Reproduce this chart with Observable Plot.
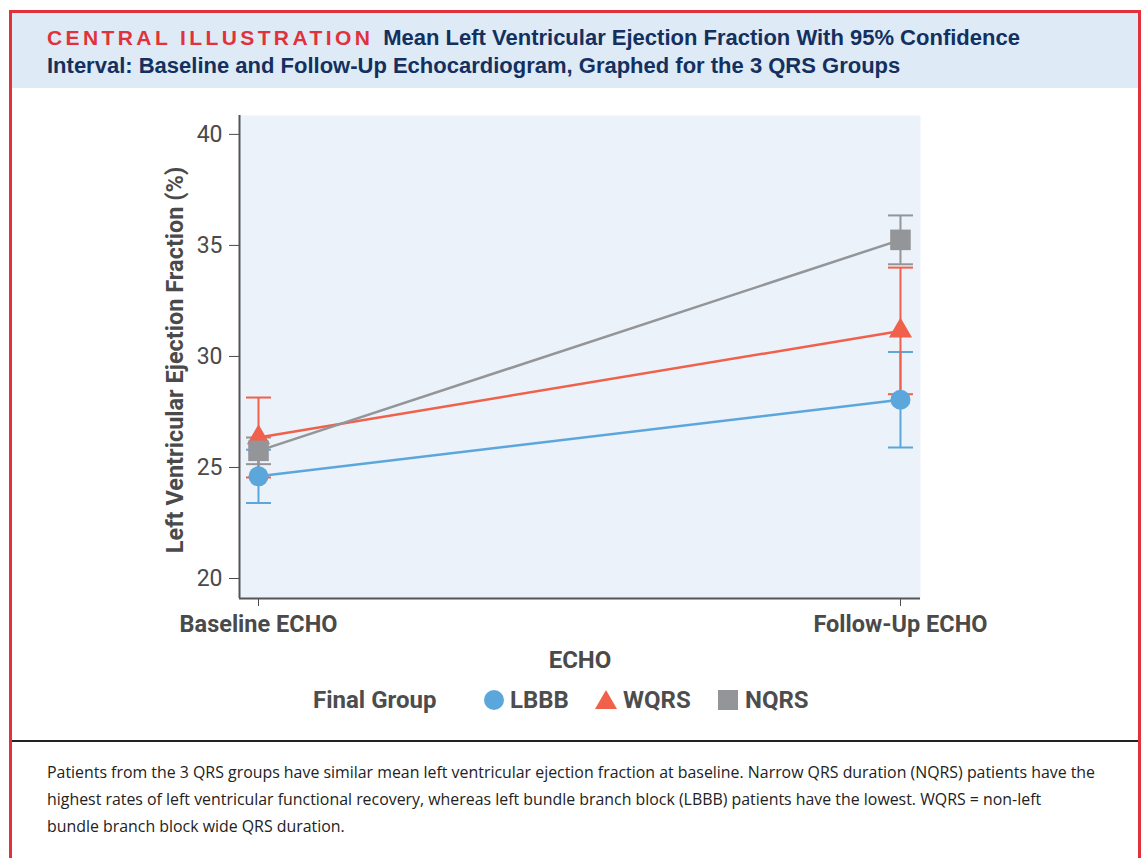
<!DOCTYPE html>
<html><head><meta charset="utf-8">
<script src="https://cdn.jsdelivr.net/npm/d3@7"></script>
<script src="https://cdn.jsdelivr.net/npm/@observablehq/plot@0.6"></script>
<style>
body{margin:0;background:#fff;width:1144px;height:858px;overflow:hidden;position:relative;font-family:Roboto,sans-serif;}
#frame{position:absolute;left:9px;top:10px;width:1126px;height:900px;border:3px solid #E1323C;}
#header{position:absolute;left:12px;top:13px;width:1126px;height:75px;background:#DEEAF6}
#title{position:absolute;left:47px;top:24px;font-family:"Liberation Sans Narrow",sans-serif;font-weight:bold;font-size:22px;line-height:28px;color:#13305F;white-space:nowrap}
#title .ci{color:#E1323C;font-family:"Liberation Sans",sans-serif;letter-spacing:3.4px;font-size:21px;margin-right:10px;font-weight:900}
#sep{position:absolute;left:12px;top:740px;width:1126px;height:2px;background:#222}
#caption{position:absolute;left:47px;top:759px;font-family:"Open Sans",sans-serif;font-size:15.9px;line-height:27px;color:#222;white-space:nowrap}
#chart{position:absolute;left:150px;top:100px}
.lg{position:absolute;top:685px;font-family:Roboto,sans-serif;font-weight:bold;font-size:24px;color:#4d4d4d;line-height:30px;white-space:nowrap}
.sw{position:absolute;top:689px}
</style></head>
<body>
<div id="frame"></div>
<div id="header"></div>
<div id="title"><span class="ci">CENTRAL ILLUSTRATION</span>Mean Left Ventricular Ejection Fraction With 95% Confidence<br>Interval: Baseline and Follow-Up Echocardiogram, Graphed for the 3 QRS Groups</div>
<div id="chart"></div>
<div id="legend"></div>
<div id="sep"></div>
<div id="caption">Patients from the 3 QRS groups have similar mean left ventricular ejection fraction at baseline. Narrow QRS duration (NQRS) patients have the<br>highest rates of left ventricular functional recovery, whereas left bundle branch block (LBBB) patients have the lowest. WQRS = non-left<br>bundle branch block wide QRS duration.</div>
<script>
// ---- data ----
const echoLabels = ["Baseline ECHO", "Follow-Up ECHO"];
const groups = ["LBBB", "WQRS", "NQRS"];
const groupColors = ["#5BA7DB", "#F0604B", "#939598"];
const groupSymbols = ["circle", "triangle", "square"];
const lbbbMean = [24.6, 28.05];
const lbbbLow  = [23.4, 25.9];
const lbbbHigh = [25.8, 30.2];
const wqrsMean = [26.35, 31.15];
const wqrsLow  = [24.55, 28.3];
const wqrsHigh = [28.15, 34.0];
const nqrsMean = [25.75, 35.25];
const nqrsLow  = [25.15, 34.15];
const nqrsHigh = [26.35, 36.35];
const yTicks = [20, 25, 30, 35, 40];

const xDomain = [-0.0296, 1.0312];
const yDomain = [19.1, 40.85];

function rows(group, means, lows, highs) {
  return echoLabels.map((e, i) => ({group, i, echo: e, mean: means[i], low: lows[i], high: highs[i]}));
}
const series = [
  rows("LBBB", lbbbMean, lbbbLow, lbbbHigh),
  rows("WQRS", wqrsMean, wqrsLow, wqrsHigh),
  rows("NQRS", nqrsMean, nqrsLow, nqrsHigh)
];
const rSizes = [10, 8.6, 11.6];
const cap = {draw(ctx, size) { ctx.moveTo(-12.5, 0); ctx.lineTo(12.5, 0); }};

const errMarks = series.flatMap((d, k) => [
  Plot.ruleX(d, {x: "i", y1: "low", y2: "high", stroke: groupColors[k], strokeWidth: 2}),
  Plot.dot(d, {x: "i", y: "low", symbol: cap, fill: "none", stroke: groupColors[k], strokeWidth: 2, r: 5}),
  Plot.dot(d, {x: "i", y: "high", symbol: cap, fill: "none", stroke: groupColors[k], strokeWidth: 2, r: 5})
]);
const lineMarks = series.map((d, k) => Plot.line(d, {x: "i", y: "mean", stroke: groupColors[k], strokeWidth: 2.5}));
const dotMarks = series.map((d, k) => Plot.dot(d, {x: "i", y: "mean", symbol: groupSymbols[k], fill: groupColors[k], stroke: "none", r: rSizes[k]}));

const chart = Plot.plot({
  width: 900, height: 570,
  marginLeft: 89, marginRight: 130, marginTop: 15, marginBottom: 72,
  style: {fontFamily: "Roboto, sans-serif", fontSize: "23px", background: "transparent", overflow: "visible"},
  x: {type: "linear", domain: xDomain},
  y: {domain: yDomain},
  marks: [
    Plot.frame({fill: "#EBF2FA", stroke: "none"}),
    Plot.axisY({ticks: yTicks, tickSize: 10, tickPadding: 7, fontSize: 23, color: "#4a4a4a", label: null}),
    Plot.axisX({ticks: [0, 1], tickFormat: i => echoLabels[i], tickSize: 8, tickPadding: 9, fontSize: 23.5, fontWeight: "bold", color: "#4a4a4a", label: null}),
    Plot.ruleX([xDomain[0]], {stroke: "#555", strokeWidth: 2}),
    Plot.ruleY([yDomain[0]], {stroke: "#555", strokeWidth: 2}),
    Plot.text(["Left Ventricular Ejection Fraction (%)"], {frameAnchor: "left", dx: -64, dy: 3, rotate: -90, textAnchor: "middle", lineAnchor: "middle", fontSize: 23.5, fontWeight: "bold", fill: "#4a4a4a"}),
    Plot.text(["ECHO"], {frameAnchor: "bottom", dy: 62, textAnchor: "middle", lineAnchor: "middle", fontSize: 24, fontWeight: "bold", fill: "#4a4a4a"}),
    ...errMarks,
    ...lineMarks,
    ...dotMarks
  ]
});
document.getElementById("chart").appendChild(chart);

// ---- legend ----
const lg = document.getElementById("legend");
const legendPos = [{sw: 483, tx: 510}, {sw: 595, tx: 623}, {sw: 717, tx: 745}];
let html = `<div class="lg" style="left:313px">Final Group</div>`;
const shapes = [
  c => `<circle cx="11" cy="11" r="10" fill="${c}"/>`,
  c => `<path d="M11,1 L22,20 L0,20 Z" fill="${c}"/>`,
  c => `<rect x="1" y="1" width="20" height="20" fill="${c}"/>`
];
groups.forEach((g, k) => {
  html += `<svg class="sw" style="left:${legendPos[k].sw}px" width="22" height="22">${shapes[k](groupColors[k])}</svg>`;
  html += `<div class="lg" style="left:${legendPos[k].tx}px">${g}</div>`;
});
lg.innerHTML = html;
</script>
</body></html>
